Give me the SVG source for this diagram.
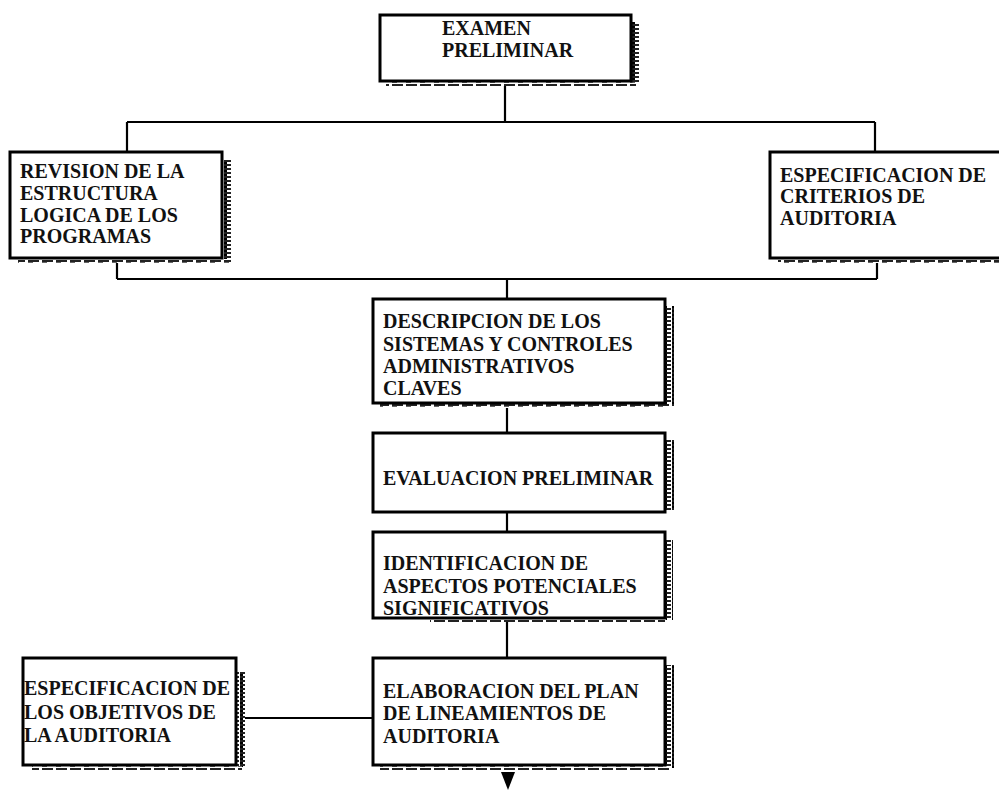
<svg xmlns="http://www.w3.org/2000/svg" width="999" height="801" viewBox="0 0 999 801">
<style>
.box{fill:#fff;stroke:#000;stroke-width:3}
.sh{fill:url(#hatchV)}
.shb{fill:url(#hatchH)}
.t{font-family:"Liberation Serif","Times New Roman",serif;font-size:20px;font-weight:bold;fill:#111}
.c{stroke:#000;stroke-width:2.2;fill:none}
</style>
<defs>
<pattern id="hatchV" width="8" height="4" patternUnits="userSpaceOnUse">
<rect width="8" height="4" fill="#fff"/>
<rect x="0" y="0" width="7" height="2" fill="#222"/>
<rect x="0" y="2" width="3" height="2" fill="#000"/>
</pattern>
<pattern id="hatchH" width="14" height="4" patternUnits="userSpaceOnUse">
<rect width="14" height="4" fill="#fff"/>
<rect x="0" y="0" width="11" height="2" fill="#222"/>
<rect x="0" y="2" width="5" height="1" fill="#666"/>
</pattern>
</defs>
<rect width="999" height="801" fill="#fff"/>

<g id="connectors">
<path class="c" d="M505,81 V122 M127,122 H875 M127,122 V152 M875,122 V152"/>
<path class="c" d="M117,258 V279 M117,279 H877 M877,258 V279 M507,279 V299"/>
<path class="c" d="M507,403 V433 M507,512 V532 M507,618 V658"/>
<path class="c" d="M243,718 H373"/>
<polygon points="501,772 515,772 508,790" fill="#000"/>
</g>

<g id="examen">
<rect class="sh" x="632" y="22" width="7" height="62"/>
<rect class="shb" x="386" y="82" width="250" height="4"/>
<rect class="box" x="380" y="15" width="251" height="66"/>
<text class="t" x="442" y="35">EXAMEN</text>
<text class="t" x="442" y="57">PRELIMINAR</text>
</g>

<g id="revision">
<rect class="sh" x="223" y="160" width="8" height="102"/>
<rect class="shb" x="18" y="259" width="212" height="4"/>
<rect class="box" x="10" y="152" width="212" height="106"/>
<text class="t" x="20" y="178">REVISION DE LA</text>
<text class="t" x="20" y="200">ESTRUCTURA</text>
<text class="t" x="20" y="222">LOGICA DE LOS</text>
<text class="t" x="20" y="243">PROGRAMAS</text>
</g>

<g id="criterios">
<rect class="shb" x="778" y="259" width="221" height="4"/>
<rect class="box" x="770" y="152" width="240" height="106"/>
<text class="t" x="780" y="182">ESPECIFICACION DE</text>
<text class="t" x="780" y="203">CRITERIOS DE</text>
<text class="t" x="780" y="225">AUDITORIA</text>
</g>

<g id="descripcion">
<rect class="sh" x="666" y="306" width="8" height="100"/>
<rect class="shb" x="380" y="404" width="292" height="4"/>
<rect class="box" x="373" y="299" width="292" height="104"/>
<text class="t" x="383" y="328">DESCRIPCION DE LOS</text>
<text class="t" x="383" y="351">SISTEMAS Y CONTROLES</text>
<text class="t" x="383" y="373">ADMINISTRATIVOS</text>
<text class="t" x="383" y="395">CLAVES</text>
</g>

<g id="evaluacion">
<rect class="sh" x="666" y="440" width="8" height="70"/>
<rect class="box" x="373" y="433" width="292" height="79"/>
<text class="t" x="383" y="485">EVALUACION PRELIMINAR</text>
</g>

<g id="identificacion">
<rect class="sh" x="666" y="540" width="7" height="80"/>
<rect class="shb" x="430" y="619" width="235" height="3"/>
<rect class="box" x="373" y="532" width="292" height="86"/>
<text class="t" x="383" y="570">IDENTIFICACION DE</text>
<text class="t" x="383" y="593">ASPECTOS POTENCIALES</text>
<text class="t" x="383" y="615">SIGNIFICATIVOS</text>
</g>

<g id="elaboracion">
<rect class="sh" x="666" y="665" width="8" height="103"/>
<rect class="shb" x="380" y="766" width="292" height="4"/>
<rect class="box" x="373" y="658" width="292" height="107"/>
<text class="t" x="383" y="698">ELABORACION DEL PLAN</text>
<text class="t" x="383" y="720">DE LINEAMIENTOS DE</text>
<text class="t" x="383" y="743">AUDITORIA</text>
</g>

<g id="objetivos">
<rect class="sh" x="237" y="672" width="8" height="95"/>
<rect class="shb" x="32" y="766" width="210" height="4"/>
<rect class="box" x="23" y="658" width="213" height="107"/>
<text class="t" x="24" y="695">ESPECIFICACION DE</text>
<text class="t" x="24" y="719">LOS OBJETIVOS DE</text>
<text class="t" x="24" y="742">LA AUDITORIA</text>
</g>
</svg>
